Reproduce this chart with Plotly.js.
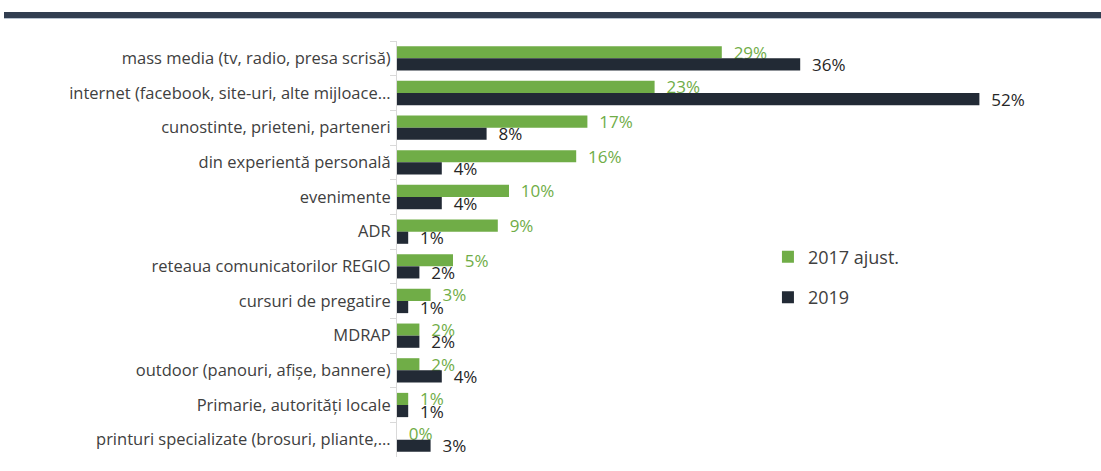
<!DOCTYPE html>
<html>
<head>
<meta charset="utf-8">
<script src="https://cdn.plot.ly/plotly-3.0.1.min.js"></script>
<style>
html,body{margin:0;padding:0;background:#fff;}
#band{position:absolute;left:4px;top:12px;width:1097px;height:6px;background:#323e50;border-bottom:1px solid #b7c2cf;z-index:5;}
#chart{position:absolute;left:0;top:0;width:1101px;height:471px;}
</style>
</head>
<body>
<div id="band"></div>
<div id="chart"></div>
<script>
const categories = [
  "mass media (tv, radio, presa scrisă)",
  "internet (facebook, site-uri, alte mijloace...",
  "cunostinte, prieteni, parteneri",
  "din experientă personală",
  "evenimente",
  "ADR",
  "reteaua comunicatorilor REGIO",
  "cursuri de pregatire",
  "MDRAP",
  "outdoor (panouri, afișe, bannere)",
  "Primarie, autorități locale",
  "printuri specializate (brosuri, pliante,..."
];
const series2017 = [29, 23, 17, 16, 10, 9, 5, 3, 2, 2, 1, 0];
const series2019 = [36, 52, 8, 4, 4, 1, 2, 1, 2, 4, 1, 3];
const seriesNames = ["2017 ajust.", "2019"];

const green = "#70ad47", dark = "#222a35";
const FF = "'Open Sans', sans-serif";
const traces = [
  {type:"bar", orientation:"h", name:seriesNames[0], y:categories, x:series2017,
   marker:{color:green}, text:series2017.map(v=>"  "+v+"%"), textposition:"outside", constraintext:"none",
   textfont:{color:green, size:17, family:FF}, cliponaxis:false, legendgroup:"a"},
  {type:"bar", orientation:"h", name:seriesNames[1], y:categories, x:series2019,
   marker:{color:dark}, text:series2019.map(v=>"  "+v+"%"), textposition:"outside", constraintext:"none",
   textfont:{color:"#262626", size:17, family:FF}, cliponaxis:false, legendgroup:"b"}
];
const layout = {
  width:1101, height:471,
  margin:{l:397, r:32, t:41, b:14},
  paper_bgcolor:"#fff", plot_bgcolor:"#fff",
  barmode:"group", bargap:0.3, bargroupgap:0,
  font:{family:FF, size:15, color:"#404040"},
  xaxis:{range:[0,60], visible:false, showgrid:false, zeroline:false},
  yaxis:{autorange:"reversed", type:"category", tickson:"boundaries", ticks:"outside", ticklen:6,
         tickcolor:"#d9d9d9", showline:true, linecolor:"#d9d9d9", linewidth:1,
         tickfont:{size:16.5, color:"#404040", family:FF}, ticklabelstandoff:2},
  showlegend:true,
  legend:{x:0.552, y:0.525, xanchor:"left", yanchor:"top", traceorder:"grouped", tracegroupgap:14,
          font:{size:18, color:"#404040", family:FF}, itemwidth:30, bgcolor:"rgba(0,0,0,0)"}
};
Plotly.newPlot("chart", traces, layout, {displayModeBar:false, staticPlot:true});
</script>
</body>
</html>
